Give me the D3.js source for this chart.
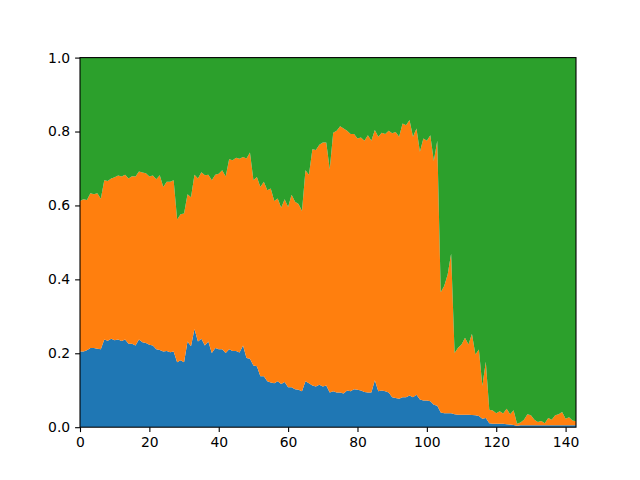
<!DOCTYPE html>
<html><head><meta charset="utf-8">
<script src="https://cdn.jsdelivr.net/npm/d3@7"></script>
<style>body{margin:0;background:#fff}svg{display:block}text{font-family:"DejaVu Sans",sans-serif}</style>
</head><body><svg id="c" width="640" height="480"></svg>
<script>
const blue = [.205,.205,.208,.214,.214,.212,.211,.237,.234,.239,.235,.237,.233,.237,.226,.226,.221,.237,.230,.228,
.223,.221,.211,.209,.205,.206,.203,.205,.176,.181,.176,.232,.219,.266,.232,.239,.221,.232,.201,.214,
.211,.211,.201,.211,.206,.206,.202,.221,.187,.185,.167,.165,.138,.138,.124,.121,.119,.124,.117,.122,
.108,.108,.103,.101,.097,.124,.119,.113,.110,.115,.110,.113,.094,.097,.094,.094,.091,.099,.097,.103,
.101,.099,.095,.094,.094,.127,.097,.099,.097,.094,.081,.079,.077,.081,.081,.086,.081,.088,.075,.072,
.072,.070,.061,.058,.040,.038,.038,.038,.035,.034,.034,.034,.034,.033,.032,.030,.023,.025,.011,.009,
.009,.009,.009,.008,.007,.006,.004,.005,.005,.005,.005,.005,.005,.005,.005,.005,.005,.005,.005,.005,
.005,.005,.005,.005];
const orange = [.407,.412,.407,.419,.416,.421,.407,.431,.432,.434,.441,.444,.445,.446,.447,.453,.457,.455,.459,.459,
.455,.460,.460,.473,.445,.458,.461,.463,.386,.395,.402,.398,.403,.417,.441,.451,.461,.451,.467,.469,
.475,.484,.477,.514,.516,.523,.524,.510,.540,.558,.501,.512,.512,.526,.517,.525,.493,.495,.477,.495,
.488,.521,.507,.503,.488,.571,.564,.639,.640,.649,.660,.657,.604,.700,.708,.720,.717,.703,.696,.690,
.680,.685,.680,.696,.681,.677,.689,.698,.696,.708,.714,.720,.709,.741,.736,.745,.705,.720,.670,.709,
.703,.720,.659,.717,.325,.344,.375,.432,.166,.181,.190,.208,.190,.220,.165,.180,.089,.152,.036,.036,
.029,.034,.028,.042,.028,.040,.005,.008,.015,.030,.027,.015,.009,.012,.006,.020,.015,.027,.030,.036,
.018,.022,.013,.011];
const green = [.388,.383,.385,.367,.370,.367,.382,.332,.334,.327,.324,.319,.322,.317,.327,.321,.322,.308,.311,.313,
.322,.319,.329,.318,.350,.336,.336,.332,.438,.424,.422,.370,.378,.317,.327,.310,.318,.317,.332,.317,
.314,.305,.322,.275,.278,.271,.274,.269,.273,.257,.332,.323,.350,.336,.359,.354,.388,.381,.406,.383,
.404,.371,.390,.396,.415,.305,.317,.248,.250,.236,.230,.230,.302,.203,.198,.186,.192,.198,.207,.207,
.219,.216,.225,.210,.225,.196,.214,.203,.207,.198,.205,.201,.214,.178,.183,.169,.214,.192,.255,.219,
.225,.210,.280,.225,.635,.618,.587,.530,.799,.785,.776,.758,.776,.747,.803,.790,.888,.823,.953,.955,
.962,.957,.963,.950,.965,.954,.991,.987,.980,.965,.968,.980,.986,.983,.989,.975,.980,.968,.965,.959,
.977,.973,.982,.984];
const xTicks = [0,20,40,60,80,100,120,140];
const yTicks = [0.0,0.2,0.4,0.6,0.8,1.0];
const seriesNames = ["blue","orange","green"];
const colors = ["#1f77b4","#ff7f0e","#2ca02c"];

const svg = d3.select("#c");
const L=80, R=576, T=57.6, B=427.2;
const x = d3.scaleLinear().domain([0, blue.length-1]).range([L,R]);
const y = d3.scaleLinear().domain([0,1]).range([B,T]);

const rows = blue.map((v,i)=>({i, blue:v, orange:orange[i], green:green[i]}));
const stacked = d3.stack().keys(seriesNames)(rows);
const area = d3.area().x(d=>x(d.data.i)).y0(d=>y(d[0])).y1(d=>y(d[1]));

svg.append("defs").append("clipPath").attr("id","clip").append("rect")
  .attr("x",L).attr("y",T).attr("width",R-L).attr("height",B-T);
svg.append("g").attr("clip-path","url(#clip)").selectAll("path").data(stacked).join("path")
  .attr("d",area).attr("fill",(d,k)=>colors[k]);

const xa = svg.append("g").attr("transform",`translate(0,${B})`)
  .call(d3.axisBottom(x).tickValues(xTicks).tickSize(4.9).tickPadding(4.9).tickFormat(d3.format("d")));
const ya = svg.append("g").attr("transform",`translate(${L},0)`)
  .call(d3.axisLeft(y).tickValues(yTicks).tickSize(4.9).tickPadding(4.9).tickFormat(d3.format(".1f")));
[xa,ya].forEach(a=>{
  a.select(".domain").remove();
  a.selectAll("line").attr("stroke","#000").attr("stroke-width",1.1);
  a.selectAll("text").attr("font-size","13.9px").attr("fill","#000").attr("font-family","DejaVu Sans");
});
svg.append("rect").attr("x",L).attr("y",T).attr("width",R-L).attr("height",B-T)
  .attr("fill","none").attr("stroke","#000").attr("stroke-width",1.1);
</script></body></html>
